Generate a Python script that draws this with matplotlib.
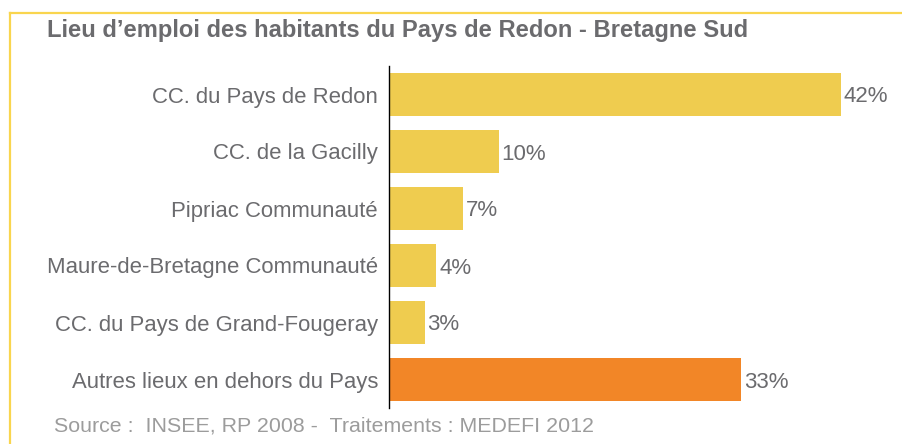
import matplotlib.pyplot as plt
from matplotlib.lines import Line2D

plt.rcParams['font.family'] = ['Liberation Sans', 'DejaVu Sans']

### Data
categories = ['CC. du Pays de Redon', 'CC. de la Gacilly', 'Pipriac Communauté',
              'Maure-de-Bretagne Communauté', 'CC. du Pays de Grand-Fougeray',
              'Autres lieux en dehors du Pays']
values = [42.0, 10.2, 6.9, 4.4, 3.3, 32.7]
labels = ['42%', '10%', '7%', '4%', '3%', '33%']
colors = ['#EFCC4F'] * 5 + ['#F28627']

W, H = 903, 444
text_grey = '#6B6B6E'

fig = plt.figure(figsize=(W / 100, H / 100), dpi=100)

### Frame lines (top and left)
fig.add_artist(Line2D([10 / W, 1], [1 - 13.5 / H, 1 - 13.5 / H], color='#F9D54E', lw=1.6))
fig.add_artist(Line2D([10.5 / W, 10.5 / W], [0, 1 - 13.5 / H], color='#F9D54E', lw=1.6))

### Bars
ax = fig.add_axes([389 / W, 1 - 408 / H, 491 / W, 342 / H])
y = list(range(len(categories)))
ax.barh(y, values, height=0.74, color=colors)
for yi, v, lab in zip(y, values, labels):
    ax.text(v + 0.25, yi, lab, va='center_baseline', ha='left', fontsize=16, color=text_grey)

ax.set_ylim(5.5, -0.5)
ax.set_xlim(0, 45.6)
ax.set_yticks(y)
ax.set_yticklabels(categories, fontsize=15.9, color=text_grey)
ax.tick_params(axis='y', length=0, pad=8)
ax.set_xticks([])
for s in ['top', 'right', 'bottom']:
    ax.spines[s].set_visible(False)
ax.spines['left'].set_linewidth(1)
ax.spines['left'].set_color('black')

### Texts
fig.text(47 / W, 1 - 31 / H, 'Lieu d\u2019emploi des habitants du Pays de Redon - Bretagne Sud',
         fontsize=17.1, fontweight='bold', color=text_grey, va='center', ha='left')
fig.text(54 / W, 1 - 426 / H, 'Source :  INSEE, RP 2008 -  Traitements : MEDEFI 2012',
         fontsize=15.4, color='#9C9C9C', va='center', ha='left')

fig.savefig('out.png', dpi=100)
plt.close(fig)
